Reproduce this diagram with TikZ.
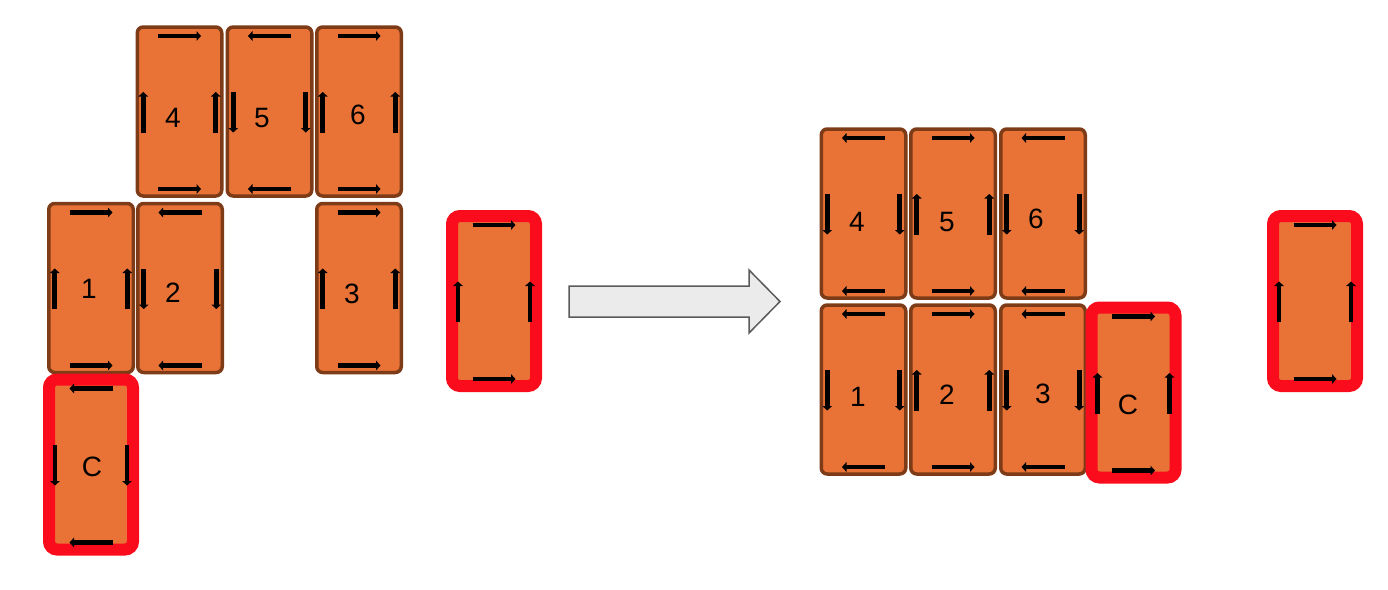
\documentclass[tikz,border=0pt]{standalone}
\usepackage{fontspec}
\setmainfont{Liberation Sans}
\usetikzlibrary{arrows.meta,calc}
\definecolor{tilefill}{HTML}{E97336}
\definecolor{tileedge}{HTML}{7E3B17}
\definecolor{rededge}{HTML}{FA0C1C}
\definecolor{bigarrowfill}{HTML}{EBEBEB}
\definecolor{bigarrowedge}{HTML}{5A5A5A}
\tikzset{
  tilebox/.style={draw=tileedge, fill=tilefill, line width=3.5pt, rounded corners=6pt,
    minimum width=84.5pt, minimum height=169pt, inner sep=0pt, outer sep=0pt},
  redbox/.style={draw=rededge, fill=tilefill, line width=12pt, rounded corners=8pt,
    minimum width=84pt, minimum height=170pt, inner sep=0pt, outer sep=0pt},
  dirarrow/.style={line width=4.8pt, -{Triangle[length=4.5pt,width=9.5pt]}},
  tiletext/.style={font=\fontsize{28}{30}\selectfont, inner sep=0pt},
  bigarrow/.style={fill=bigarrowfill, draw=bigarrowedge, line width=1.5pt, line join=miter},
}
% forward: right on top/bottom, up on sides
\newcommand{\fwdarrows}[1]{%
  \draw[dirarrow] ($(#1.north)+(-21.5,9)$) -- ($(#1.north)+(21.5,9)$);
  \draw[dirarrow] ($(#1.south)+(-21.5,-7)$) -- ($(#1.south)+(21.5,-7)$);
  \draw[dirarrow] ($(#1.west)+(6,21)$) -- ($(#1.west)+(6,-19.5)$);
  \draw[dirarrow] ($(#1.east)+(-6,21)$) -- ($(#1.east)+(-6,-19.5)$);
}
% reverse: left on top/bottom, down on sides
\newcommand{\revarrows}[1]{%
  \draw[dirarrow] ($(#1.north)+(21.5,9)$) -- ($(#1.north)+(-21.5,9)$);
  \draw[dirarrow] ($(#1.south)+(21.5,-7)$) -- ($(#1.south)+(-21.5,-7)$);
  \draw[dirarrow] ($(#1.west)+(6,-19.5)$) -- ($(#1.west)+(6,21)$);
  \draw[dirarrow] ($(#1.east)+(-6,-19.5)$) -- ($(#1.east)+(-6,21)$);
}
\begin{document}
\begin{tikzpicture}[x=1pt,y=-1pt]
\useasboundingbox (0,0) rectangle (1388,589);
% ---------- left arrangement ----------
\node[tilebox] (t4) at (179.5,111.5) {};
\node[tilebox] (t5) at (269.5,111.5) {};
\node[tilebox] (t6) at (359,111.5) {};
\node[tilebox] (t1) at (91,288) {};
\node[tilebox] (t2) at (180,288) {};
\node[tilebox] (t3) at (359,288) {};
\node[redbox] (cl) at (91,464.5) {};
\node[redbox] (ca) at (494,301) {};
\fwdarrows{t4}
\revarrows{t5}
\fwdarrows{t6}
\fwdarrows{t1}
\revarrows{t2}
\fwdarrows{t3}
\revarrows{cl}
\fwdarrows{ca}
\node[tiletext] (l4) at ($(t4)+(-6.5,6.5)$) {4};
\node[tiletext] (l5) at ($(t5)+(-7.5,6.5)$) {5};
\node[tiletext] (l6) at ($(t6)+(-1,3.5)$) {6};
\node[tiletext] (l1) at ($(t1)+(-2,1)$) {1};
\node[tiletext] (l2) at ($(t2)+(-7,5)$) {2};
\node[tiletext] (l3) at ($(t3)+(-7,6)$) {3};
\node[tiletext] (lc) at ($(cl)+(1,2.5)$) {C};
% ---------- big arrow ----------
\draw[bigarrow] (569,286) -- (749,286) -- (749,270) -- (780,301.5) -- (749,333) -- (749,317) -- (569,317) -- cycle;
% ---------- right arrangement ----------
\node[tilebox] (r4) at (863.5,213.5) {};
\node[tilebox] (r5) at (953,213.5) {};
\node[tilebox] (r6) at (1043,213.5) {};
\node[tilebox] (r1) at (863.5,389.5) {};
\node[tilebox] (r2) at (953,389.5) {};
\node[tilebox] (r3) at (1043,389.5) {};
\node[redbox] (rc) at (1133.5,392.5) {};
\node[redbox] (rca) at (1315,301) {};
\revarrows{r4}
\fwdarrows{r5}
\revarrows{r6}
\revarrows{r1}
\fwdarrows{r2}
\revarrows{r3}
\fwdarrows{rc}
\fwdarrows{rca}
\node[tiletext] (m4) at ($(r4)+(-6.5,8.5)$) {4};
\node[tiletext] (m5) at ($(r5)+(-6,8.5)$) {5};
\node[tiletext] (m6) at ($(r6)+(-7,5.5)$) {6};
\node[tiletext] (m1) at ($(r1)+(-5.5,7.5)$) {1};
\node[tiletext] (m2) at ($(r2)+(-6,5.5)$) {2};
\node[tiletext] (m3) at ($(r3)+(0,4.5)$) {3};
\node[tiletext] (mc) at ($(rc)+(-5.5,12.5)$) {C};
\end{tikzpicture}
\end{document}
